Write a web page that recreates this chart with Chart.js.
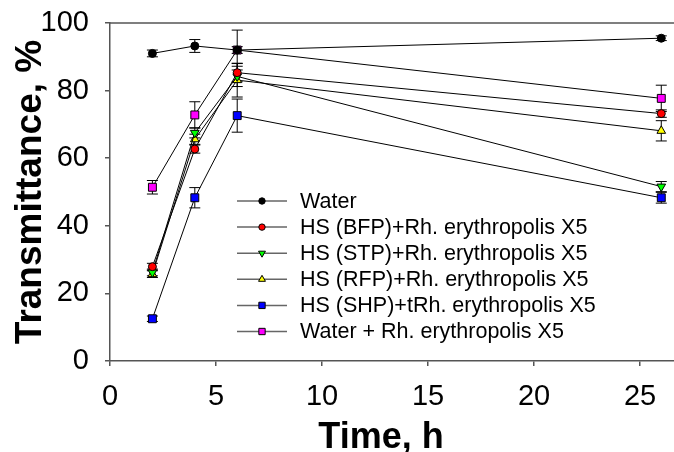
<!DOCTYPE html>
<html>
<head>
<meta charset="utf-8">
<script src="https://cdn.jsdelivr.net/npm/chart.js@4/dist/chart.umd.min.js"></script>
<style>
  body { margin: 0; background: #fff; }
  canvas { display: block; }
</style>
</head>
<body>
<canvas id="chart" width="674" height="452"></canvas>
<script>
// sampling times, h
const times = [2, 4, 6, 26];

// transmittance, % and error bar half-widths
const water = [91.0, 93.2, 92.0, 95.5];
const waterErr = [1.0, 1.9, 1.0, 0.7];
const bfp = [27.9, 62.7, 85.3, 73.2];
const bfpErr = [1.0, 1.2, 2.7, 1.1];
const stp = [26.2, 67.5, 84.2, 51.6];
const stpErr = [1.0, 1.5, 3.0, 1.5];
const rfp = [25.7, 65.6, 83.1, 68.1];
const rfpErr = [1.0, 1.5, 5.0, 3.0];
const shp = [12.5, 48.3, 72.6, 48.3];
const shpErr = [0.8, 3.0, 4.9, 1.6];
const waterRh = [51.4, 72.8, 92.0, 77.7];
const waterRhErr = [2.0, 3.9, 5.9, 3.9];

const seriesNames = [
    'Water',
    'HS (BFP)+Rh. erythropolis X5',
    'HS (STP)+Rh. erythropolis X5',
    'HS (RFP)+Rh. erythropolis X5',
    'HS (SHP)+tRh. erythropolis X5',
    'Water + Rh. erythropolis X5'
];

const xTicks = [0, 5, 10, 15, 20, 25];
const yTicks = [0, 20, 40, 60, 80, 100];

const axisColor = '#555';
const fontFamily = '"Liberation Sans", Arial, sans-serif';

function makeSet(label, values, errs, color, style, radius, rotation) {
    return {
        label: label,
        data: times.map((t, i) => ({ x: t, y: values[i] })),
        errors: errs,
        borderColor: '#000',
        borderWidth: 1,
        pointBackgroundColor: color,
        pointBorderColor: '#000',
        pointBorderWidth: 1,
        pointStyle: style,
        pointRadius: radius,
        pointRotation: rotation || 0,
        tension: 0
    };
}

// vertical error bars drawn with the chart's own scales
const errorBars = {
    id: 'errorBars',
    beforeDatasetsDraw(chart) {
        const ctx = chart.ctx;
        const xs = chart.scales.x, ys = chart.scales.y;
        ctx.save();
        ctx.strokeStyle = '#000';
        ctx.lineWidth = 1;
        chart.data.datasets.forEach(ds => {
            ds.data.forEach((p, i) => {
                const e = ds.errors[i];
                const px = xs.getPixelForValue(p.x);
                const top = ys.getPixelForValue(p.y + e);
                const bot = ys.getPixelForValue(p.y - e);
                ctx.beginPath();
                ctx.moveTo(px, top); ctx.lineTo(px, bot);
                ctx.moveTo(px - 5.5, top); ctx.lineTo(px + 5.5, top);
                ctx.moveTo(px - 5.5, bot); ctx.lineTo(px + 5.5, bot);
                ctx.stroke();
            });
        });
        ctx.restore();
    }
};

// top frame line, axis titles and the inside legend
const decorations = {
    id: 'decorations',
    afterDraw(chart) {
        const ctx = chart.ctx;
        const area = chart.chartArea;
        ctx.save();
        ctx.strokeStyle = axisColor;
        ctx.lineWidth = 1.5;
        ctx.beginPath();
        ctx.moveTo(area.left, area.top);
        ctx.lineTo(674, area.top);
        ctx.stroke();

        ctx.fillStyle = '#000';
        ctx.font = 'bold 36px ' + fontFamily;
        ctx.textAlign = 'center';
        ctx.textBaseline = 'alphabetic';
        ctx.fillText('Time, h', 381, 448);

        ctx.font = 'bold 37px ' + fontFamily;
        ctx.save();
        ctx.translate(41, 192);
        ctx.rotate(-Math.PI / 2);
        ctx.fillText('Transmittance, %', 0, 0);
        ctx.restore();

        // legend
        ctx.font = '21.5px ' + fontFamily;
        ctx.textAlign = 'left';
        ctx.textBaseline = 'middle';
        chart.data.datasets.forEach((ds, i) => {
            const y = 201 + i * 26.1;
            ctx.strokeStyle = '#666';
            ctx.lineWidth = 1.5;
            ctx.beginPath();
            ctx.moveTo(237, y); ctx.lineTo(287, y);
            ctx.stroke();
            ctx.fillStyle = ds.pointBackgroundColor;
            ctx.strokeStyle = '#000';
            ctx.lineWidth = 1;
            Chart.helpers.drawPoint(ctx, {
                pointStyle: ds.pointStyle,
                rotation: ds.pointRotation,
                radius: ds.pointRadius * 0.8,
                borderWidth: 1
            }, 262, y);
            ctx.fillStyle = '#000';
            ctx.fillText(ds.label, 300, y + 1);
        });
        ctx.restore();
    }
};

new Chart(document.getElementById('chart').getContext('2d'), {
    type: 'line',
    data: {
        datasets: [
            makeSet(seriesNames[0], water, waterErr, '#000000', 'circle', 4),
            makeSet(seriesNames[1], bfp, bfpErr, '#ff0000', 'circle', 4),
            makeSet(seriesNames[2], stp, stpErr, '#00ff00', 'triangle', 5, 180),
            makeSet(seriesNames[3], rfp, rfpErr, '#ffff00', 'triangle', 5),
            makeSet(seriesNames[4], shp, shpErr, '#0000ff', 'rect', 5.6),
            makeSet(seriesNames[5], waterRh, waterRhErr, '#ff00ff', 'rect', 5.6)
        ]
    },
    options: {
        responsive: false,
        animation: false,
        layout: { autoPadding: false, padding: { top: 23, right: 0, left: 0, bottom: 0 } },
        plugins: {
            legend: { display: false },
            tooltip: { enabled: false }
        },
        scales: {
            x: {
                type: 'linear',
                min: 0,
                max: 26.6,
                afterBuildTicks: s => { s.ticks = xTicks.map(v => ({ value: v })); },
                afterFit: s => {
                    s.height = 91;
                    s.paddingLeft = 0;
                    s.paddingRight = 0;
                },
                border: { display: true, color: axisColor, width: 1.5 },
                grid: { drawOnChartArea: false, tickLength: 5, color: axisColor, lineWidth: 1.5 },
                ticks: {
                    color: '#000',
                    padding: 14,
                    maxRotation: 0,
                    font: { family: fontFamily, size: 29 }
                }
            },
            y: {
                min: 0,
                max: 100,
                afterBuildTicks: s => { s.ticks = yTicks.map(v => ({ value: v })); },
                afterFit: s => {
                    s.width = 110;
                    s.paddingTop = 0;
                    s.paddingBottom = 0;
                },
                border: { display: true, color: axisColor, width: 1.5 },
                grid: { drawOnChartArea: false, tickLength: 5, color: axisColor, lineWidth: 1.5 },
                ticks: {
                    color: '#000',
                    padding: 16,
                    font: { family: fontFamily, size: 29 }
                }
            }
        }
    },
    plugins: [errorBars, decorations]
});
</script>
</body>
</html>
